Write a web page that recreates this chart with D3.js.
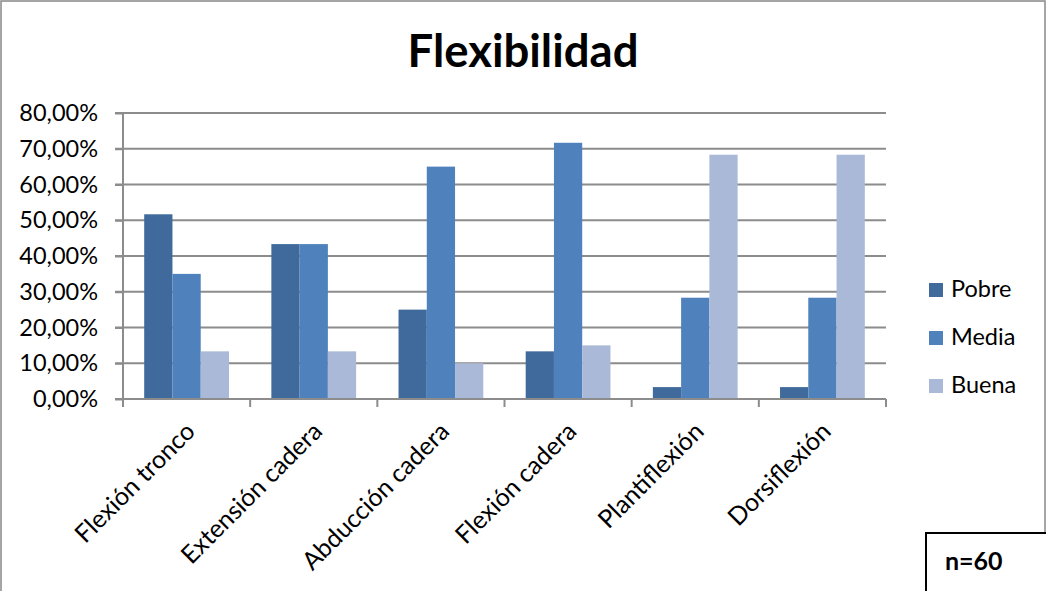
<!DOCTYPE html>
<html>
<head>
<meta charset="utf-8">
<script src="https://cdn.jsdelivr.net/npm/d3@7"></script>
<style>
  html, body { margin: 0; padding: 0; background: #fff; }
  svg { display: block; font-family: Lato, "Open Sans", sans-serif; }
</style>
</head>
<body>
<svg id="chart" width="1046" height="591"></svg>
<script>
// Flexibility test results by movement, share of subjects per rating
const categories = ["Flexión tronco", "Extensión cadera", "Abducción cadera", "Flexión cadera", "Plantiflexión", "Dorsiflexión"];
const seriesNames = ["Pobre", "Media", "Buena"];
const pobre = [0.5167, 0.4333, 0.25, 0.1333, 0.0333, 0.0333];
const media = [0.35, 0.4333, 0.65, 0.7167, 0.2833, 0.2833];
const buena = [0.1333, 0.1333, 0.10, 0.15, 0.6833, 0.6833];
const seriesColors = ["#406a9c", "#4f81bd", "#aab9d7"];
const yTicks = [0, 0.1, 0.2, 0.3, 0.4, 0.5, 0.6, 0.7, 0.8];
const titleText = "Flexibilidad";
const noteText = "n=60";

const seriesValues = [pobre, media, buena];
const rows = categories.map((c, i) => ({
  category: c,
  values: seriesNames.map((s, j) => ({ series: s, value: seriesValues[j][i] }))
}));

const svg = d3.select("#chart");
const plot = { left: 123, right: 886, top: 113, bottom: 399 };

// Spanish number formatting: comma as decimal separator
const locale = d3.formatLocale({ decimal: ",", thousands: ".", grouping: [3], currency: ["", " €"] });
const pct = locale.format(".2%");

const x = d3.scaleBand()
  .domain(categories)
  .range([plot.left, plot.right])
  .paddingInner(1 / 3)
  .paddingOuter(1 / 6);

const xs = d3.scaleBand()
  .domain(seriesNames)
  .range([0, x.bandwidth()]);

const y = d3.scaleLinear()
  .domain([0, 0.8])
  .range([plot.bottom, plot.top]);

const color = d3.scaleOrdinal().domain(seriesNames).range(seriesColors);

// outer chart frame
svg.append("rect")
  .attr("x", 1).attr("y", 1)
  .attr("width", 1044).attr("height", 620)
  .attr("fill", "#fff")
  .attr("stroke", "#888").attr("stroke-width", 1.5);

// title
svg.append("text")
  .attr("x", 523).attr("y", 67)
  .attr("text-anchor", "middle")
  .attr("font-size", 45.5).attr("font-weight", 700)
  .attr("fill", "#000")
  .text(titleText);

// horizontal gridlines (extend left to form the tick marks)
svg.append("g")
  .selectAll("line")
  .data(yTicks)
  .join("line")
  .attr("x1", plot.left - 8).attr("x2", plot.right)
  .attr("y1", d => y(d)).attr("y2", d => y(d))
  .attr("stroke", "#8c8c8c").attr("stroke-width", 2);

// y axis
const yAxis = svg.append("g")
  .attr("transform", `translate(${plot.left},0)`)
  .call(d3.axisLeft(y).tickValues(yTicks).tickFormat(pct).tickSize(8).tickPadding(17));
yAxis.select(".domain").remove();
yAxis.selectAll(".tick line").attr("stroke", "#8c8c8c").attr("stroke-width", 2);
yAxis.selectAll(".tick text").attr("font-size", 23.5).attr("fill", "#000")
  .attr("font-family", "Lato, sans-serif");
svg.append("line")
  .attr("x1", plot.left).attr("x2", plot.left)
  .attr("y1", plot.top).attr("y2", plot.bottom + 8)
  .attr("stroke", "#8c8c8c").attr("stroke-width", 2);

// bars
svg.append("g")
  .selectAll("g")
  .data(rows)
  .join("g")
  .attr("transform", d => `translate(${x(d.category)},0)`)
  .selectAll("rect")
  .data(d => d.values)
  .join("rect")
  .attr("x", d => xs(d.series))
  .attr("width", xs.bandwidth())
  .attr("y", d => y(d.value))
  .attr("height", d => y(0) - y(d.value))
  .attr("fill", d => color(d.series));

// x axis line and category boundary ticks
svg.append("line")
  .attr("x1", plot.left - 8).attr("x2", plot.right)
  .attr("y1", y(0)).attr("y2", y(0))
  .attr("stroke", "#8c8c8c").attr("stroke-width", 2);
const boundaries = categories.map(c => x(c) - x.step() * x.paddingOuter()).concat([plot.right]);
svg.append("g")
  .selectAll("line")
  .data(boundaries)
  .join("line")
  .attr("x1", d => d).attr("x2", d => d)
  .attr("y1", y(0)).attr("y2", y(0) + 8)
  .attr("stroke", "#8c8c8c").attr("stroke-width", 2);

// rotated category labels
svg.append("g")
  .selectAll("text")
  .data(categories)
  .join("text")
  .attr("transform", d => `translate(${x(d) + x.bandwidth() / 2 + 10},${433}) rotate(-45)`)
  .attr("text-anchor", "end")
  .attr("font-size", 25)
  .attr("fill", "#000")
  .text(d => d);

// legend
const legend = svg.append("g")
  .selectAll("g")
  .data(seriesNames)
  .join("g")
  .attr("transform", (d, i) => `translate(929,${283 + i * 48})`);
legend.append("rect")
  .attr("width", 14).attr("height", 14)
  .attr("fill", d => color(d));
legend.append("text")
  .attr("x", 22).attr("y", 14)
  .attr("font-size", 23.5)
  .attr("fill", "#000")
  .text(d => d);

// sample size box
svg.append("rect")
  .attr("x", 926).attr("y", 533)
  .attr("width", 140).attr("height", 80)
  .attr("fill", "#fff")
  .attr("stroke", "#000").attr("stroke-width", 2);
svg.append("text")
  .attr("x", 945).attr("y", 570)
  .attr("font-size", 25).attr("font-weight", 700)
  .attr("fill", "#000")
  .text(noteText);
</script>
</body>
</html>
